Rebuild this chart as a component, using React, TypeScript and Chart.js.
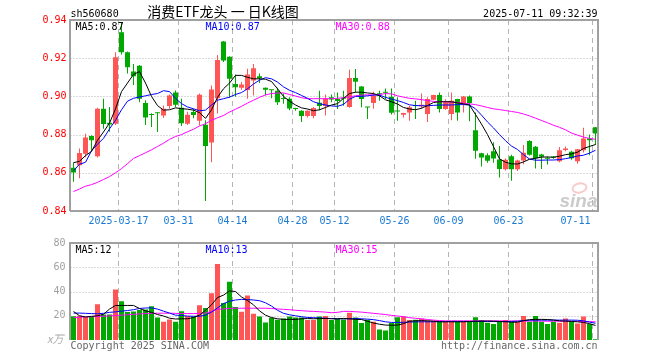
import React, { useEffect, useRef } from 'react';
import { Chart, registerables } from 'chart.js';

Chart.register(...registerables);

// ---------- data ----------
const dates = [
  '2025-03-05','2025-03-06','2025-03-07','2025-03-10','2025-03-11','2025-03-12','2025-03-13','2025-03-14',
  '2025-03-17','2025-03-18','2025-03-19','2025-03-20','2025-03-21','2025-03-24','2025-03-25','2025-03-26','2025-03-27','2025-03-28',
  '2025-03-31','2025-04-01','2025-04-02','2025-04-03','2025-04-07','2025-04-08','2025-04-09','2025-04-10','2025-04-11',
  '2025-04-14','2025-04-15','2025-04-16','2025-04-17','2025-04-18','2025-04-21','2025-04-22','2025-04-23','2025-04-24','2025-04-25',
  '2025-04-28','2025-04-29','2025-04-30','2025-05-06','2025-05-07','2025-05-08','2025-05-09',
  '2025-05-12','2025-05-13','2025-05-14','2025-05-15','2025-05-16','2025-05-19','2025-05-20','2025-05-21','2025-05-22','2025-05-23',
  '2025-05-26','2025-05-27','2025-05-28','2025-05-29','2025-05-30','2025-06-03','2025-06-04','2025-06-05','2025-06-06',
  '2025-06-09','2025-06-10','2025-06-11','2025-06-12','2025-06-13','2025-06-16','2025-06-17','2025-06-18','2025-06-19','2025-06-20',
  '2025-06-23','2025-06-24','2025-06-25','2025-06-26','2025-06-27','2025-06-30','2025-07-01','2025-07-02','2025-07-03','2025-07-04',
  '2025-07-07','2025-07-08','2025-07-09','2025-07-10','2025-07-11'
];

const axisDates = ['2025-03-17','2025-03-31','2025-04-14','2025-04-28','2025-05-12','2025-05-26','2025-06-09','2025-06-23','2025-07-11'];

const openP = [
  0.8627,0.8640,0.8700,0.8793,0.8687,0.8935,0.8862,0.8857,0.9336,0.9231,
  0.9130,0.9160,0.8965,0.8906,0.8915,0.8900,0.8950,0.9020,0.8940,0.8857,
  0.8918,0.8872,0.8852,0.8758,0.8990,0.9287,0.9208,0.9065,0.9045,0.9033,
  0.9083,0.9105,0.9045,0.9034,0.9030,0.8990,0.8988,0.8937,0.8925,0.8897,
  0.8897,0.8967,0.8950,0.8995,0.8987,0.8992,0.8945,0.9096,0.9052,0.8945,
  0.8965,0.9014,0.9022,0.8998,0.8924,0.8904,0.8916,0.8952,0.8948,0.8908,
  0.8983,0.9007,0.8934,0.8908,0.8986,0.8962,0.9000,0.8823,0.8702,0.8692,
  0.8713,0.8670,0.8618,0.8686,0.8618,0.8665,0.8767,0.8737,0.8696,0.8676,
  0.8683,0.8660,0.8720,0.8710,0.8661,0.8718,0.8779,0.8838
];
const highP = [
  0.8653,0.8727,0.8805,0.8796,0.8940,0.8988,0.8945,0.9231,0.9390,0.9235,
  0.9170,0.9165,0.8980,0.8912,0.8916,0.8952,0.9010,0.9031,0.8988,0.8920,
  0.8935,0.9015,0.8875,0.9057,0.9217,0.9290,0.9210,0.9115,0.9075,0.9145,
  0.9170,0.9120,0.9047,0.9035,0.9045,0.9015,0.8996,0.8940,0.8927,0.8928,
  0.8945,0.9030,0.9010,0.9010,0.9020,0.9030,0.9140,0.9143,0.9055,0.8945,
  0.9025,0.9030,0.9042,0.9042,0.8995,0.8915,0.8951,0.8977,0.9015,0.8995,
  0.9008,0.9021,0.8985,0.9021,0.8988,0.9002,0.9005,0.8916,0.8705,0.8702,
  0.8760,0.8740,0.8675,0.8695,0.8668,0.8745,0.8770,0.8740,0.8700,0.8685,
  0.8688,0.8735,0.8738,0.8715,0.8725,0.8836,0.8800,0.8840
];
const lowP = [
  0.8553,0.8572,0.8682,0.8711,0.8680,0.8830,0.8815,0.8850,0.9220,0.9120,
  0.9060,0.8970,0.8850,0.8840,0.8813,0.8887,0.8935,0.8944,0.8845,0.8850,
  0.8885,0.8848,0.8452,0.8655,0.8910,0.9180,0.8993,0.8998,0.9035,0.8988,
  0.9005,0.9070,0.9005,0.8990,0.8955,0.8962,0.8927,0.8925,0.8866,0.8890,
  0.8885,0.8927,0.8900,0.8970,0.8934,0.8951,0.8940,0.9021,0.8943,0.8882,
  0.8935,0.8977,0.8986,0.8905,0.8873,0.8890,0.8873,0.8882,0.8935,0.8866,
  0.8980,0.8916,0.8930,0.8875,0.8873,0.8916,0.8870,0.8674,0.8633,0.8653,
  0.8653,0.8575,0.8612,0.8558,0.8610,0.8645,0.8690,0.8622,0.8620,0.8643,
  0.8673,0.8655,0.8713,0.8668,0.8647,0.8706,0.8692,0.8745
];
const closeP = [
  0.8601,0.8704,0.8785,0.8770,0.8935,0.8855,0.8853,0.9205,0.9231,0.9153,
  0.9105,0.8988,0.8890,0.8902,0.8912,0.8935,0.9005,0.8956,0.8860,0.8904,
  0.8902,0.9008,0.8740,0.9036,0.9190,0.9188,0.9092,0.9048,0.9062,0.9115,
  0.9148,0.9095,0.9035,0.9032,0.8970,0.8986,0.8936,0.8934,0.8897,0.8925,
  0.8939,0.8950,0.8988,0.8984,0.8976,0.8988,0.9096,0.9077,0.8986,0.8942,
  0.9003,0.9011,0.9019,0.8915,0.8921,0.8913,0.8943,0.8950,0.8956,0.8986,
  0.9007,0.8934,0.8969,0.8977,0.8916,0.8999,0.8965,0.8715,0.8680,0.8663,
  0.8675,0.8620,0.8668,0.8618,0.8665,0.8705,0.8695,0.8676,0.8684,0.8673,
  0.8680,0.8718,0.8727,0.8676,0.8723,0.8779,0.8770,0.8806
];

const ma5 = [
  0.8653,0.8660,0.8690,0.8712,0.8770,0.8814,0.8860,0.8935,0.9025,0.9070,
  0.9115,0.9130,0.9070,0.9000,0.8952,0.8928,0.8930,0.8940,0.8936,0.8933,
  0.8928,0.8915,0.8885,0.8930,0.8995,0.9040,0.9070,0.9110,0.9110,0.9100,
  0.9092,0.9092,0.9090,0.9078,0.9040,0.9000,0.8975,0.8955,0.8940,0.8934,
  0.8925,0.8930,0.8942,0.8955,0.8962,0.8990,0.9015,0.9022,0.9022,0.9018,
  0.9015,0.9003,0.8982,0.8972,0.8960,0.8942,0.8934,0.8930,0.8938,0.8952,
  0.8968,0.8972,0.8972,0.8972,0.8966,0.8961,0.8955,0.8905,0.8855,0.8800,
  0.8737,0.8673,0.8655,0.8647,0.8646,0.8657,0.8671,0.8676,0.8682,0.8683,
  0.8681,0.8687,0.8695,0.8699,0.8708,0.8727,0.8738,0.8748
];
const ma10 = [
  0.8610,0.8645,0.8655,0.8715,0.8750,0.8780,0.8830,0.8875,0.8930,0.8975,
  0.8990,0.8997,0.9003,0.9010,0.9015,0.9030,0.9025,0.8990,0.8962,0.8945,
  0.8935,0.8925,0.8928,0.8955,0.8980,0.8988,0.8996,0.9010,0.9020,0.9040,
  0.9065,0.9085,0.9098,0.9092,0.9075,0.9050,0.9032,0.9020,0.9005,0.8990,
  0.8972,0.8962,0.8955,0.8950,0.8948,0.8958,0.8985,0.9000,0.9000,0.9003,
  0.9007,0.9007,0.8995,0.8986,0.8978,0.8968,0.8956,0.8952,0.8951,0.8951,
  0.8953,0.8955,0.8955,0.8955,0.8957,0.8957,0.8955,0.8935,0.8902,0.8866,
  0.8835,0.8800,0.8768,0.8740,0.8722,0.8695,0.8672,0.8666,0.8666,0.8667,
  0.8667,0.8669,0.8674,0.8680,0.8688,0.8692,0.8703,0.8718
];
const ma30 = [
  0.8502,0.8515,0.8530,0.8538,0.8550,0.8565,0.8580,0.8600,0.8622,0.8648,
  0.8675,0.8690,0.8705,0.8720,0.8738,0.8755,0.8775,0.8790,0.8800,0.8815,
  0.8828,0.8845,0.8857,0.8875,0.8888,0.8900,0.8918,0.8933,0.8948,0.8965,
  0.8980,0.8995,0.9008,0.9015,0.9018,0.9018,0.9010,0.9002,0.8993,0.8988,
  0.8988,0.8988,0.8988,0.8988,0.8990,0.8993,0.8998,0.9003,0.9007,0.9008,
  0.9008,0.9010,0.9015,0.9013,0.9003,0.8996,0.8990,0.8987,0.8983,0.8978,
  0.8974,0.8972,0.8972,0.8970,0.8968,0.8965,0.8961,0.8957,0.8950,0.8942,
  0.8935,0.8931,0.8926,0.8921,0.8916,0.8908,0.8898,0.8886,0.8874,0.8862,
  0.8849,0.8838,0.8825,0.8808,0.8797,0.8787,0.8780,0.8775
];

const volume = [
  19.5,20,19,19,29.5,21,21,41.7,32,23,
  23.5,24.7,25.2,27.8,18.5,15,17,15,23.7,19.8,
  19.3,28.7,26.3,38.6,62.7,30.5,48,27.3,23.3,36.7,
  21.7,19.3,14.5,18.3,16.7,17.8,19.3,18.5,18.5,16.5,
  16.5,19.3,19.8,16.5,17.3,17,22.4,18.6,14.1,16.7,
  15,8.7,7.8,14.1,18.7,19.4,16.4,16.7,17.5,16,
  15.8,15,15,15,15,15,15,18.7,16.4,14.2,
  13.1,15,16.4,15,15,19.8,15,19.8,15,13.1,
  15,14.2,17.7,15,13.7,19.4,13.1,0.6
];
const volMa5 = [
  23.5,20,19,19.5,20,21.2,25.5,28.5,28.5,28.5,
  28.5,26,24,22.8,21,19.8,18,17.3,17.5,17.5,
  18.5,20.5,24.5,29,35,37,40.5,40,35.5,32.5,
  29,24,20.5,18.5,17.5,17,17,17,17.5,17.7,
  17.5,17.7,17.8,17.5,17.5,17.8,17.5,17,16.9,15.5,
  14,13,12.3,12.2,12.3,13.5,15.5,15.8,16,15.8,
  15.5,15,15,15,15,15,15.2,15.5,15.5,15.6,
  15.5,15.3,15,14.7,14.7,16,16.8,17,17,16.9,
  16.5,15.8,15.5,15.3,15,14.5,13.5,12
];
const volMa10 = [
  22.2,22.2,22,21.8,21.6,22,22.8,23.2,23.8,24.3,
  25,26,26.4,26.5,25.5,23.8,22.2,20.5,20.3,19.7,
  19.6,19.6,20.5,23,26.5,30,32,33,33.5,33.3,
  33,32.4,30.7,28,24.5,22,20.8,20,19.2,18.6,
  18.4,18.2,17.9,17.7,17.5,17.5,17.5,17.7,17.5,17.2,
  16.8,16,15,14.5,14.5,14.6,14.8,15,15,15,
  15,15.2,15.2,15.3,15.3,15.3,15.3,15.3,15.3,15.3,
  15.2,15.2,15.2,15.3,15.5,16,16.3,16.4,16.4,16.4,
  16.4,16.4,16.4,16.4,16.3,15.8,14.8,13.8
];
const volMa30 = [
  18.5,18.8,19,19.2,19.4,19.6,19.9,20.2,20.5,20.8,
  21.2,21.5,21.8,22,22.1,22.1,22.1,22,21.8,21.8,
  21.8,22,22.2,23.5,25.3,25.6,26,26.2,26.2,26.2,
  26.2,26.2,26.2,26,25.6,25.3,25,24.5,24.2,23.8,
  23.6,23.3,23,22.5,22.8,23.6,23.6,23.3,23,22.5,
  22,21.5,21,20.3,19.8,19.2,18.4,17.9,17.5,16.9,
  16.4,16,15.8,15.8,15.8,15.8,15.8,15.8,15.8,15.8,
  15.8,15.8,15.7,15.7,15.7,15.6,15.6,15.6,15.6,15.5,
  15.5,15.5,15.4,15.4,15.3,15.2,15.1,15
];

const priceTicks = { min: 0.84, max: 0.94, step: 0.02 };
const volTicks = { min: 0, max: 80, step: 20 };
const priceMaLabels = ['MA5:0.87', 'MA10:0.87', 'MA30:0.88'];
const volMaLabels = ['MA5:12', 'MA10:13', 'MA30:15'];
const symbol = 'sh560680';
const title = '消费ETF龙头 一 日K线图';
const timestamp = '2025-07-11 09:32:39';
const volUnit = 'x万';
const copyright = 'Copyright 2025 SINA.COM';
const siteUrl = 'http://finance.sina.com.cn';

// ---------- styles ----------
const UP = '#ff5555';
const DOWN = '#00a800';
const GRID = '#b4b4b4';
const FRAME = '#a0a0a0';
const MA_COLORS = ['#000000', '#0000ff', '#ff00ff'];
const MONO = '"DejaVu Sans Mono", "Liberation Mono", monospace';
const CJK = '"Noto Sans CJK SC", "Noto Sans", sans-serif';

const candleColors = closeP.map((c, i) => (c >= openP[i] ? UP : DOWN));

function drawGrid(chart: any) {
  const { ctx, chartArea: a, scales } = chart;
  const x = scales.x;
  const y = scales.y;
  ctx.save();
  ctx.lineWidth = 1;
  ctx.strokeStyle = GRID;
  ctx.setLineDash([1, 2]);
  y.ticks.forEach((t: any) => {
    if (t.value <= y.min + 1e-9 || t.value >= y.max - 1e-9) return;
    const py = Math.round(y.getPixelForValue(t.value)) + 0.5;
    ctx.beginPath();
    ctx.moveTo(a.left, py);
    ctx.lineTo(a.right, py);
    ctx.stroke();
  });
  ctx.setLineDash([5, 4]);
  const half = (x.getPixelForValue(1) - x.getPixelForValue(0)) / 2;
  axisDates.forEach((d) => {
    const i = dates.indexOf(d);
    const px = Math.floor(x.getPixelForValue(i) - half) + 0.5;
    ctx.beginPath();
    ctx.moveTo(px, a.top);
    ctx.lineTo(px, a.bottom);
    ctx.stroke();
  });
  ctx.restore();
}

function drawFrame(chart: any, closeBottom: boolean) {
  const { ctx, chartArea: a } = chart;
  const l = Math.floor(a.left);
  const r = Math.floor(a.right);
  const t = Math.round(a.top);
  const b = Math.round(a.bottom);
  ctx.save();
  ctx.strokeStyle = FRAME;
  ctx.lineWidth = 2;
  ctx.setLineDash([]);
  ctx.beginPath();
  ctx.moveTo(l, b);
  ctx.lineTo(l, t);
  ctx.lineTo(r, t);
  ctx.lineTo(r, b);
  if (closeBottom) ctx.lineTo(l, b);
  ctx.stroke();
  ctx.restore();
}

function txt(ctx: any, s: string, x: number, y: number, color: string, font: string, align = 'left', baseline = 'alphabetic') {
  ctx.save();
  ctx.fillStyle = color;
  ctx.font = font;
  ctx.textAlign = align;
  ctx.textBaseline = baseline;
  ctx.fillText(s, x, y);
  ctx.restore();
}

const pricePlugin = {
  id: 'pricePanel',
  beforeDatasetsDraw(chart: any) {
    drawGrid(chart);
    const { ctx, chartArea: a } = chart;
    // faint sina watermark
    ctx.save();
    ctx.strokeStyle = 'rgba(240,140,140,0.45)';
    ctx.lineWidth = 2;
    ctx.beginPath();
    ctx.ellipse(a.right - 19, a.bottom - 23, 7, 4.5, -0.2, 0, Math.PI * 2);
    ctx.stroke();
    ctx.restore();
    txt(ctx, 'sina', a.right - 1, a.bottom - 4, 'rgba(185,185,185,0.75)', 'italic bold 19px "Liberation Sans", sans-serif', 'right');
  },
  afterDraw(chart: any) {
    const { ctx, chartArea: a, scales } = chart;
    drawFrame(chart, true);
    const x = scales.x;
    const half = (x.getPixelForValue(1) - x.getPixelForValue(0)) / 2;
    ctx.save();
    ctx.font = `10px ${MONO}`;
    axisDates.forEach((d, k) => {
      const i = dates.indexOf(d);
      const s = k === 0 ? d : d.slice(5);
      const w = ctx.measureText(s).width;
      let left = x.getPixelForValue(i) - half - w / 2;
      if (left + w > a.right - 8) left = a.right - 8 - w;
      txt(ctx, s, left, a.bottom + 10, '#1a7ad4', `10px ${MONO}`, 'left', 'middle');
    });
    ctx.restore();
    txt(ctx, symbol, a.left, 17, '#000', `10px ${MONO}`);
    txt(ctx, title, 223, 12, '#000', `14px ${CJK}`, 'center', 'middle');
    txt(ctx, timestamp, a.right - 1, 17, '#000', `10px ${MONO}`, 'right');
    const xs = [a.left + 5, a.left + 135, a.left + 265];
    priceMaLabels.forEach((s, k) => txt(ctx, s, xs[k], a.top + 9.5, MA_COLORS[k], `10px ${MONO}`));
  },
};

const volPlugin = {
  id: 'volPanel',
  beforeDatasetsDraw(chart: any) {
    drawGrid(chart);
  },
  afterDraw(chart: any) {
    const { ctx, chartArea: a } = chart;
    drawFrame(chart, false);
    const xs = [a.left + 5, a.left + 135, a.left + 265];
    volMaLabels.forEach((s, k) => txt(ctx, s, xs[k], a.top + 10, MA_COLORS[k], `10px ${MONO}`));
    txt(ctx, volUnit, a.left - 7, a.bottom + 3, '#aaaaaa', `italic 11px ${CJK}`, 'right');
    txt(ctx, copyright, a.left, a.bottom + 8.5, '#666666', `10px ${MONO}`);
    txt(ctx, siteUrl, a.right - 1, a.bottom + 8.5, '#666666', `10px ${MONO}`, 'right');
  },
};

function lineDs(label: string, data: number[], color: string) {
  return {
    type: 'line' as const,
    label,
    data,
    borderColor: color,
    backgroundColor: color,
    borderWidth: 1,
    pointRadius: 0,
    pointHoverRadius: 0,
    tension: 0,
    fill: false,
    order: 0,
  };
}

export default function App() {
  const priceRef = useRef<HTMLCanvasElement | null>(null);
  const volRef = useRef<HTMLCanvasElement | null>(null);

  useEffect(() => {
    if (!priceRef.current || !volRef.current) return;

    const priceChart = new Chart(priceRef.current, {
      type: 'bar',
      data: {
        labels: dates,
        datasets: [
          lineDs('MA5', ma5, MA_COLORS[0]),
          lineDs('MA10', ma10, MA_COLORS[1]),
          lineDs('MA30', ma30, MA_COLORS[2]),
          {
            type: 'bar',
            label: 'body',
            data: openP.map((o, i) => [o, closeP[i]]),
            backgroundColor: candleColors,
            borderWidth: 0,
            barThickness: 5,
            grouped: false,
            minBarLength: 1,
            inflateAmount: 0,
            order: 1,
          } as any,
          {
            type: 'bar',
            label: 'wick',
            data: lowP.map((l, i) => [l, highP[i]]),
            backgroundColor: candleColors,
            borderWidth: 0,
            barThickness: 1,
            grouped: false,
            inflateAmount: 0,
            order: 2,
          } as any,
        ],
      },
      options: {
        responsive: false,
        animation: false,
        events: [],
        layout: { padding: { left: 0, right: 61.5, top: 20, bottom: 21 } },
        plugins: { legend: { display: false }, tooltip: { enabled: false }, title: { display: false } },
        scales: {
          x: { display: false, offset: true },
          y: {
            min: priceTicks.min,
            max: priceTicks.max,
            border: { display: false },
            grid: { display: false, drawTicks: false },
            ticks: {
              stepSize: priceTicks.step,
              color: '#ff0000',
              padding: 4,
              font: { family: MONO, size: 10 },
              callback: (v: any) => Number(v).toFixed(2),
            },
            afterFit: (s: any) => { s.width = 70.5; },
          },
        },
      } as any,
      plugins: [pricePlugin],
    });

    const volChart = new Chart(volRef.current, {
      type: 'bar',
      data: {
        labels: dates,
        datasets: [
          lineDs('MA5', volMa5, MA_COLORS[0]),
          lineDs('MA10', volMa10, MA_COLORS[1]),
          lineDs('MA30', volMa30, MA_COLORS[2]),
          {
            type: 'bar',
            label: 'volume',
            data: volume,
            backgroundColor: candleColors,
            borderWidth: 0,
            barThickness: 5,
            grouped: false,
            inflateAmount: 0,
            order: 1,
          } as any,
        ],
      },
      options: {
        responsive: false,
        animation: false,
        events: [],
        layout: { padding: { left: 0, right: 61.5, top: 8, bottom: 20 } },
        plugins: { legend: { display: false }, tooltip: { enabled: false } },
        scales: {
          x: { display: false, offset: true },
          y: {
            min: volTicks.min,
            max: volTicks.max,
            border: { display: false },
            grid: { display: false, drawTicks: false },
            ticks: {
              stepSize: volTicks.step,
              color: '#a0a0a0',
              padding: 5,
              font: { family: MONO, size: 10 },
              callback: (v: any) => (Number(v) === 0 ? '' : String(v)),
            },
            afterFit: (s: any) => { s.width = 70.5; },
          },
        },
      } as any,
      plugins: [volPlugin],
    });

    return () => {
      priceChart.destroy();
      volChart.destroy();
    };
  }, []);

  return (
    <div style={{ position: 'absolute', left: 0, top: 0, width: 660, height: 360, background: '#ffffff', overflow: 'hidden' }}>
      <canvas ref={priceRef} width={660} height={232} style={{ position: 'absolute', left: 0, top: 0 }} />
      <canvas ref={volRef} width={660} height={128} style={{ position: 'absolute', left: 0, top: 232 }} />
    </div>
  );
}
